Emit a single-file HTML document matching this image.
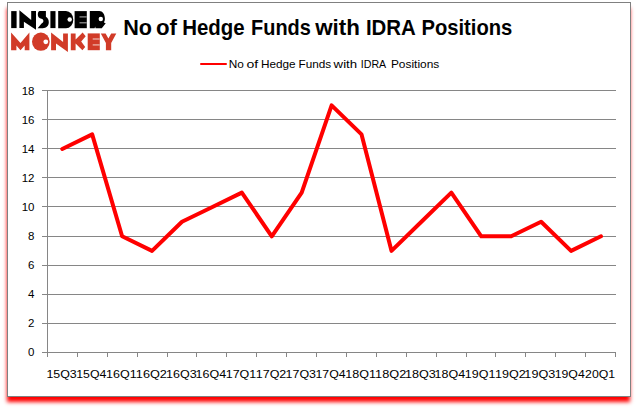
<!DOCTYPE html>
<html><head><meta charset="utf-8">
<style>
html,body{margin:0;padding:0;background:#fff;}
body{width:637px;height:408px;overflow:hidden;position:relative;}
#box{position:absolute;left:7px;top:2px;width:622px;height:393px;border:1px solid #808080;background:#fff;box-shadow:-1px 5px 4px -0.5px #ff0000;}
svg{position:absolute;left:0;top:0;}
text{font-family:"Liberation Sans",sans-serif;fill:#000;}
</style></head>
<body>
<div id="box"></div>
<svg width="637" height="408" viewBox="0 0 637 408">
<g id="logo">
<g fill="#000">
<rect x="11.2" y="11.1" width="5.4" height="17"/>
<polygon points="19.4,10.25 31.2,20.1 31.2,11.1 36,11.1 36,29.7 23.9,21.8 23.9,28.1 19.4,28.1"/>
<path d="M39.8 11.1 L45.9 11.1 L45.9 16.8 C47.8 17.8 48.8 19.8 48.8 22.3 C48.8 25.8 46.2 28.2 42.8 28.2 L37.6 28.2 L41.6 23.4 C42.7 23.1 43.4 22.2 43.4 21.1 C43.4 19.9 42.6 19 41.4 18.8 C39.4 18.4 37.8 16.9 37.8 14.8 C37.8 12.8 38.6 11.1 39.8 11.1 Z"/>
<rect x="50.4" y="11.1" width="5.1" height="17"/>
<path d="M58.2 11.1 L66 11.1 A7.3 8.55 0 0 1 66 28.2 L58.2 28.2 Z"/>
<path d="M74.6 11.1 H86.8 V28.2 H74.6 Z"/>
<path d="M89.8 11.1 L99.3 11.1 C102.5 11.1 104.9 14.5 104.9 18.8 C104.9 20.2 104.5 21.5 103.9 22.4 L105.7 23.3 L101.8 28.2 L95.5 28.2 L95.2 26.6 L94.6 28.2 L89.8 28.2 Z"/>
</g>
<g fill="#fff">
<circle cx="69.7" cy="19.5" r="2.2"/>
<circle cx="100.8" cy="19.05" r="2.2"/>
</g>
<g fill="#9a9a9a">
<rect x="79.5" y="16.3" width="7.3" height="1.2"/>
<rect x="79.5" y="22.2" width="7.3" height="1.2"/>
</g>
<g fill="#d13b28">
<polygon points="11.1,32.4 20.5,43.1 29.4,32.4 29.4,50.2 24.7,50.2 24.7,45.4 20.5,50.2 16.4,45.4 16.4,50.2 11.1,50.2"/>
<ellipse cx="40.85" cy="41.7" rx="8.85" ry="9.1"/>
<polygon points="51.1,32.4 63.1,42.1 63.1,33.4 67.9,33.4 67.9,52 56,43.5 56,50.2 51.1,50.2"/>
<polygon points="70.8,33.4 75.6,33.4 75.6,39.6 82.6,32.5 85.7,36.2 81.2,41.5 85.2,46.9 82.4,50.2 75.6,43.6 75.6,50.2 70.8,50.2"/>
<path d="M87.7 33.4 H99.8 V50.2 H87.7 Z"/>
<polygon points="100.8,33.4 105.6,33.4 108.4,38.5 111.2,33.4 116.3,33.4 111.2,43 111.2,50.2 105.9,50.2 105.9,43"/>
</g>
<circle cx="45.8" cy="41.8" r="2.4" fill="#fff"/>
<g fill="#eaa89e">
<rect x="92.7" y="38.3" width="7.1" height="1.4"/>
<rect x="92.7" y="44.2" width="7.1" height="1.4"/>
</g>
</g>

<line x1="201" y1="64" x2="226" y2="64" stroke="#ff0000" stroke-width="2" stroke-linecap="round"/>
<g stroke="#868686" stroke-width="1" shape-rendering="crispEdges">
<line x1="42" y1="352.5" x2="616" y2="352.5" />
<line x1="42" y1="323.5" x2="616" y2="323.5" />
<line x1="42" y1="294.5" x2="616" y2="294.5" />
<line x1="42" y1="265.5" x2="616" y2="265.5" />
<line x1="42" y1="236.5" x2="616" y2="236.5" />
<line x1="42" y1="206.5" x2="616" y2="206.5" />
<line x1="42" y1="177.5" x2="616" y2="177.5" />
<line x1="42" y1="148.5" x2="616" y2="148.5" />
<line x1="42" y1="119.5" x2="616" y2="119.5" />
<line x1="42" y1="90.5" x2="616" y2="90.5" />
<line x1="47.5" y1="90" x2="47.5" y2="357" />
<line x1="47.5" y1="352" x2="47.5" y2="357" />
<line x1="77.5" y1="352" x2="77.5" y2="357" />
<line x1="107.5" y1="352" x2="107.5" y2="357" />
<line x1="137.5" y1="352" x2="137.5" y2="357" />
<line x1="167.5" y1="352" x2="167.5" y2="357" />
<line x1="196.5" y1="352" x2="196.5" y2="357" />
<line x1="226.5" y1="352" x2="226.5" y2="357" />
<line x1="256.5" y1="352" x2="256.5" y2="357" />
<line x1="286.5" y1="352" x2="286.5" y2="357" />
<line x1="316.5" y1="352" x2="316.5" y2="357" />
<line x1="346.5" y1="352" x2="346.5" y2="357" />
<line x1="376.5" y1="352" x2="376.5" y2="357" />
<line x1="406.5" y1="352" x2="406.5" y2="357" />
<line x1="436.5" y1="352" x2="436.5" y2="357" />
<line x1="466.5" y1="352" x2="466.5" y2="357" />
<line x1="495.5" y1="352" x2="495.5" y2="357" />
<line x1="525.5" y1="352" x2="525.5" y2="357" />
<line x1="555.5" y1="352" x2="555.5" y2="357" />
<line x1="585.5" y1="352" x2="585.5" y2="357" />
<line x1="615.5" y1="352" x2="615.5" y2="357" />
</g>
<polyline points="62.25,148.97 92.18,134.42 122.11,236.31 152.04,250.86 181.97,221.75 211.90,207.19 241.83,192.64 271.76,236.31 301.69,192.64 331.62,105.31 361.55,134.42 391.48,250.86 421.41,221.75 451.34,192.64 481.27,236.31 511.20,236.31 541.13,221.75 571.06,250.86 600.99,236.31" fill="none" stroke="#ff0000" stroke-width="4" stroke-linejoin="round" stroke-linecap="round"/>
<g font-size="11.5">
<text x="34.5" y="356" text-anchor="end">0</text>
<text x="34.5" y="327" text-anchor="end">2</text>
<text x="34.5" y="298" text-anchor="end">4</text>
<text x="34.5" y="269" text-anchor="end">6</text>
<text x="34.5" y="240" text-anchor="end">8</text>
<text x="34.5" y="211" text-anchor="end">10</text>
<text x="34.5" y="182" text-anchor="end">12</text>
<text x="34.5" y="153" text-anchor="end">14</text>
<text x="34.5" y="124" text-anchor="end">16</text>
<text x="34.5" y="95" text-anchor="end">18</text>
</g>
<text x="123.25" y="34.8" font-size="21.2" font-weight="bold" textLength="28.80" lengthAdjust="spacingAndGlyphs">No</text>
<text x="155.98" y="34.8" font-size="21.2" font-weight="bold" textLength="20.99" lengthAdjust="spacingAndGlyphs">of</text>
<text x="182.20" y="34.8" font-size="21.2" font-weight="bold" textLength="62.41" lengthAdjust="spacingAndGlyphs">Hedge</text>
<text x="251.08" y="34.8" font-size="21.2" font-weight="bold" textLength="59.79" lengthAdjust="spacingAndGlyphs">Funds</text>
<text x="315.21" y="34.8" font-size="21.2" font-weight="bold" textLength="44.72" lengthAdjust="spacingAndGlyphs">with</text>
<text x="365.90" y="34.8" font-size="21.2" font-weight="bold" textLength="49.92" lengthAdjust="spacingAndGlyphs">IDRA</text>
<text x="421.46" y="34.8" font-size="21.2" font-weight="bold" textLength="90.85" lengthAdjust="spacingAndGlyphs">Positions</text>
<text x="228.69" y="68" font-size="11.2" textLength="15.12" lengthAdjust="spacingAndGlyphs">No</text>
<text x="246.49" y="68" font-size="11.2" textLength="11.74" lengthAdjust="spacingAndGlyphs">of</text>
<text x="260.96" y="68" font-size="11.2" textLength="34.63" lengthAdjust="spacingAndGlyphs">Hedge</text>
<text x="298.58" y="68" font-size="11.2" textLength="32.63" lengthAdjust="spacingAndGlyphs">Funds</text>
<text x="333.63" y="68" font-size="11.2" textLength="23.53" lengthAdjust="spacingAndGlyphs">with</text>
<text x="360.76" y="68" font-size="11.2" textLength="25.41" lengthAdjust="spacingAndGlyphs">IDRA</text>
<text x="390.91" y="68" font-size="11.2" textLength="48.35" lengthAdjust="spacingAndGlyphs">Positions</text>
<text x="46.42" y="378" font-size="11.2" textLength="30.36" lengthAdjust="spacingAndGlyphs">15Q3</text>
<text x="76.22" y="378" font-size="11.2" textLength="30.19" lengthAdjust="spacingAndGlyphs">15Q4</text>
<text x="106.14" y="378" font-size="11.2" textLength="30.64" lengthAdjust="spacingAndGlyphs">16Q1</text>
<text x="135.82" y="378" font-size="11.2" textLength="31.11" lengthAdjust="spacingAndGlyphs">16Q2</text>
<text x="166.11" y="378" font-size="11.2" textLength="30.58" lengthAdjust="spacingAndGlyphs">16Q3</text>
<text x="195.64" y="378" font-size="11.2" textLength="30.56" lengthAdjust="spacingAndGlyphs">16Q4</text>
<text x="225.69" y="378" font-size="11.2" textLength="30.54" lengthAdjust="spacingAndGlyphs">17Q1</text>
<text x="255.75" y="378" font-size="11.2" textLength="30.56" lengthAdjust="spacingAndGlyphs">17Q2</text>
<text x="285.56" y="378" font-size="11.2" textLength="30.47" lengthAdjust="spacingAndGlyphs">17Q3</text>
<text x="315.52" y="378" font-size="11.2" textLength="30.15" lengthAdjust="spacingAndGlyphs">17Q4</text>
<text x="345.32" y="378" font-size="11.2" textLength="30.67" lengthAdjust="spacingAndGlyphs">18Q1</text>
<text x="375.13" y="378" font-size="11.2" textLength="31.13" lengthAdjust="spacingAndGlyphs">18Q2</text>
<text x="405.02" y="378" font-size="11.2" textLength="30.88" lengthAdjust="spacingAndGlyphs">18Q3</text>
<text x="434.62" y="378" font-size="11.2" textLength="30.59" lengthAdjust="spacingAndGlyphs">18Q4</text>
<text x="464.87" y="378" font-size="11.2" textLength="30.55" lengthAdjust="spacingAndGlyphs">19Q1</text>
<text x="494.90" y="378" font-size="11.2" textLength="30.81" lengthAdjust="spacingAndGlyphs">19Q2</text>
<text x="524.36" y="378" font-size="11.2" textLength="30.96" lengthAdjust="spacingAndGlyphs">19Q3</text>
<text x="554.69" y="378" font-size="11.2" textLength="30.05" lengthAdjust="spacingAndGlyphs">19Q4</text>
<text x="585.08" y="378" font-size="11.2" textLength="30.10" lengthAdjust="spacingAndGlyphs">20Q1</text>
</svg>
</body></html>
